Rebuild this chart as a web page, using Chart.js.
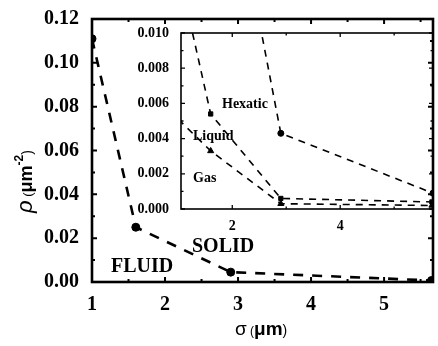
<!DOCTYPE html>
<html>
<head>
<meta charset="utf-8">
<script src="https://cdn.jsdelivr.net/npm/chart.js@4/dist/chart.umd.min.js"></script>
<style>
  html, body { margin: 0; padding: 0; background: #fff; }
  #wrap { position: relative; width: 438px; height: 346px; }
  #mainChart { position: absolute; left: 0; top: 0; }
  #insetChart { position: absolute; left: 120px; top: 20px; }
</style>
</head>
<body>
<div id="wrap">
  <canvas id="mainChart" width="438" height="346"></canvas>
  <canvas id="insetChart" width="318" height="215"></canvas>
</div>
<script>
// main panel: solid/fluid boundary
const mainSigma = [1.0, 1.6, 2.9, 5.65];
const mainRho = [0.111, 0.025, 0.0045, 0.0007];
const mainXTicks = [1, 2, 3, 4, 5];
const mainYTicks = [0, 0.02, 0.04, 0.06, 0.08, 0.10, 0.12];

// inset: zoom near rho = 0
const solidSigma = [1.6, 2.9, 5.72];
const solidRho = [0.025, 0.0043, 0.0009];
const hexSigma = [1.0, 1.6, 2.9, 5.7];
const hexRho = [0.0136, 0.0054, 0.0006, 0.0004];
const liqSigma = [1.0, 1.6, 2.9, 5.7];
const liqRho = [0.0051, 0.0033, 0.0003, 0.0002];
const insetXTicks = [2, 4];
const insetYTicks = [0, 0.002, 0.004, 0.006, 0.008, 0.010];

const SERIF = '"Liberation Serif", "Times New Roman", serif';
const SANS = '"Liberation Sans", Arial, sans-serif';

Chart.defaults.animation = false;
Chart.defaults.responsive = false;
Chart.defaults.color = '#000';

function pts(xs, ys) {
  return xs.map((x, i) => ({ x: x, y: ys[i] }));
}

function setTicks(values) {
  return scale => { scale.ticks = values.map(v => ({ value: v })); };
}

function steps(min, max, step) {
  const out = [];
  for (let v = Math.ceil(min / step - 1e-6) * step; v <= max + 1e-9; v += step) out.push(v);
  return out;
}

// box with inward ticks on all four sides
function drawFrame(chart, o) {
  const { ctx, chartArea: a, scales: { x, y } } = chart;
  ctx.save();
  ctx.strokeStyle = '#000';
  ctx.lineWidth = o.lw;
  ctx.strokeRect(a.left, a.top, a.right - a.left, a.bottom - a.top);
  ctx.lineWidth = o.tw;
  ctx.beginPath();
  steps(x.min, x.max, o.xMinor).forEach(v => {
    const px = x.getPixelForValue(v);
    const len = o.xTicks.some(t => Math.abs(t - v) < 1e-6) ? o.major : o.minor;
    ctx.moveTo(px, a.bottom); ctx.lineTo(px, a.bottom - len);
    ctx.moveTo(px, a.top); ctx.lineTo(px, a.top + len);
  });
  steps(y.min, y.max, o.yMinor).forEach(v => {
    const py = y.getPixelForValue(v);
    const len = o.yTicks.some(t => Math.abs(t - v) < 1e-7) ? o.major : o.minor;
    ctx.moveTo(a.left, py); ctx.lineTo(a.left + len, py);
    ctx.moveTo(a.right, py); ctx.lineTo(a.right - len, py);
  });
  ctx.stroke();
  ctx.restore();
}

// draws a run of [text, font, dy] pieces starting at (x, y)
function drawPieces(ctx, x, y, pieces) {
  pieces.forEach(([text, font, dy]) => {
    ctx.font = font;
    ctx.fillText(text, x, y + (dy || 0));
    x += ctx.measureText(text).width;
  });
}

const mainDecor = {
  id: 'mainDecor',
  afterDraw(chart) {
    drawFrame(chart, { lw: 2.6, tw: 2, major: 5, minor: 3, xMinor: 0.5, yMinor: 0.01,
      xTicks: mainXTicks, yTicks: mainYTicks });
    const ctx = chart.ctx;
    ctx.save();
    ctx.fillStyle = '#000';
    ctx.textBaseline = 'alphabetic';
    ctx.font = 'bold 20px ' + SERIF;
    ctx.fillText('FLUID', 111, 272);
    ctx.fillText('SOLID', 192, 252);

    drawPieces(ctx, 235, 335, [
      ['σ', '19px ' + SANS],
      [' (', '12px ' + SANS],
      ['μm', 'bold 19px ' + SANS],
      [')', '14px ' + SANS]
    ]);

    ctx.translate(32, 213);
    ctx.rotate(-Math.PI / 2);
    drawPieces(ctx, 0, 0, [
      ['ρ', 'italic 22px ' + SANS],
      [' (', '13px ' + SANS],
      ['μm', 'bold 18px ' + SANS],
      ['-2', 'bold 12px ' + SANS, -9],
      [')', '14px ' + SANS]
    ]);
    ctx.restore();
  }
};

const insetDecor = {
  id: 'insetDecor',
  afterDraw(chart) {
    drawFrame(chart, { lw: 1.6, tw: 1.3, major: 4, minor: 2.5, xMinor: 1, yMinor: 0.001,
      xTicks: insetXTicks, yTicks: insetYTicks });
    const ctx = chart.ctx;
    ctx.save();
    ctx.fillStyle = '#000';
    ctx.font = 'bold 14px ' + SERIF;
    // canvas is offset by (120, 20)
    ctx.fillText('Hexatic', 222 - 120, 108 - 20);
    ctx.fillText('Liquid', 193 - 120, 140 - 20);
    ctx.fillText('Gas', 193 - 120, 182 - 20);
    ctx.restore();
  }
};

new Chart(document.getElementById('mainChart'), {
  type: 'line',
  data: {
    datasets: [{
      data: pts(mainSigma, mainRho),
      borderColor: '#000',
      backgroundColor: '#000',
      borderWidth: 2.6,
      borderDash: [10, 9],
      pointRadius: 4,
      pointBorderWidth: 1,
      pointStyle: 'circle',
      tension: 0
    }]
  },
  options: {
    layout: { padding: { left: 0, top: 19, right: 2, bottom: 0 } },
    plugins: { legend: { display: false }, tooltip: { enabled: false } },
    scales: {
      x: {
        type: 'linear', min: 1, max: 5.67,
        grid: { display: false }, border: { display: false },
        afterBuildTicks: setTicks(mainXTicks),
        afterFit: s => { s.height = 346 - 282; },
        ticks: { padding: 3, font: { family: SERIF, size: 20, weight: 'bold' }, color: '#000',
          callback: v => String(v) }
      },
      y: {
        min: 0, max: 0.12,
        grid: { display: false }, border: { display: false },
        afterBuildTicks: setTicks(mainYTicks),
        afterFit: s => { s.width = 92; },
        ticks: { padding: 5, font: { family: SERIF, size: 20, weight: 'bold' }, color: '#000',
          callback: v => v.toFixed(2) }
      }
    }
  },
  plugins: [mainDecor]
});

function insetSet(xs, ys, style, r) {
  return {
    data: pts(xs, ys),
    borderColor: '#000',
    backgroundColor: '#000',
    borderWidth: 1.6,
    borderDash: [7, 6],
    pointRadius: r,
    pointBorderWidth: 1,
    pointStyle: style,
    tension: 0
  };
}

new Chart(document.getElementById('insetChart'), {
  type: 'line',
  data: {
    datasets: [
      insetSet(solidSigma, solidRho, 'circle', 3),
      insetSet(hexSigma, hexRho, 'rect', 3),
      insetSet(liqSigma, liqRho, 'triangle', 3.5)
    ]
  },
  options: {
    layout: { padding: { left: 0, top: 13, right: 2, bottom: 0 } },
    plugins: { legend: { display: false }, tooltip: { enabled: false } },
    scales: {
      x: {
        type: 'linear', min: 1.05, max: 5.72,
        grid: { display: false }, border: { display: false },
        afterBuildTicks: setTicks(insetXTicks),
        afterFit: s => { s.height = 215 - 189; },
        ticks: { padding: 1, font: { family: SERIF, size: 14, weight: 'bold' }, color: '#000',
          callback: v => String(v) }
      },
      y: {
        min: 0, max: 0.010,
        grid: { display: false }, border: { display: false },
        afterBuildTicks: setTicks(insetYTicks),
        afterFit: s => { s.width = 61; },
        ticks: { padding: 4, font: { family: SERIF, size: 14, weight: 'bold' }, color: '#000',
          callback: v => v.toFixed(3) }
      }
    }
  },
  plugins: [insetDecor]
});
</script>
</body>
</html>
